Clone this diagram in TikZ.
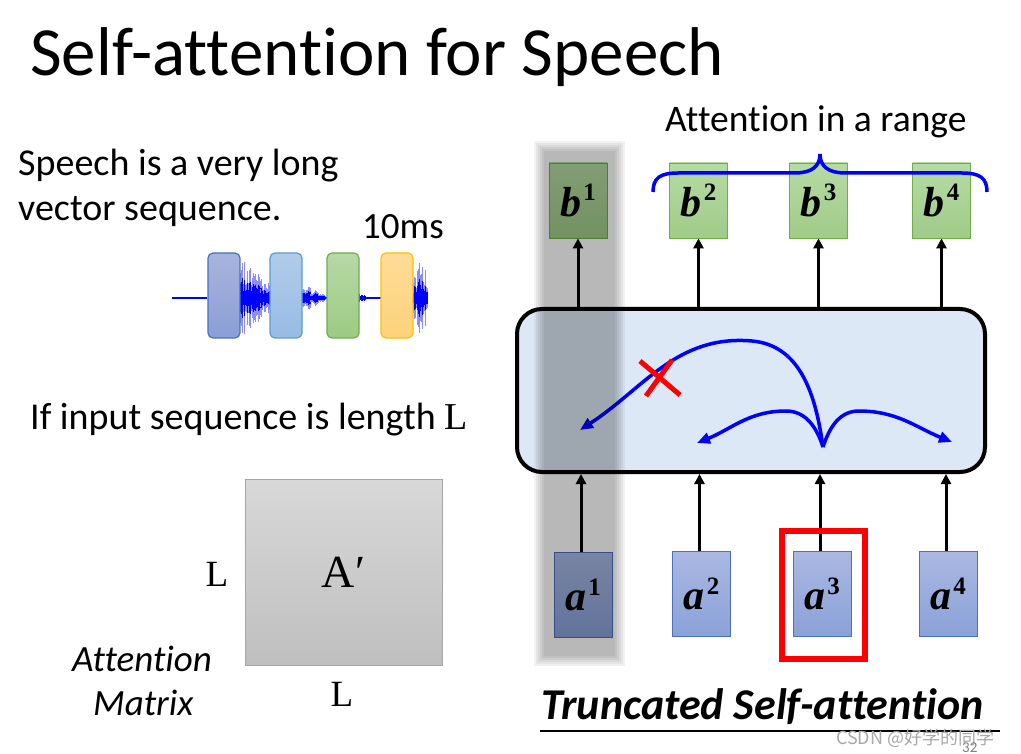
\documentclass[tikz,border=0pt]{standalone}
\usepackage{fontspec}
\setmainfont{Carlito}[Ligatures=NoCommon]
\newfontfamily\libserif{Liberation Serif}
\newfontfamily\cjkfont{Noto Sans CJK SC}
\usetikzlibrary{arrows.meta,calc}
\definecolor{atop}{HTML}{AAB8E2}
\definecolor{abot}{HTML}{8AA1D8}
\definecolor{aedge}{HTML}{4A70BE}
\definecolor{btop}{HTML}{B6DBA4}
\definecolor{bbot}{HTML}{A0CB88}
\definecolor{bedge}{HTML}{70AD47}
\definecolor{layerfill}{HTML}{DCE8F5}
\definecolor{wb1t}{HTML}{A9B4DC}
\definecolor{wb1b}{HTML}{8A9ED6}
\definecolor{wb1e}{HTML}{4472C4}
\definecolor{wb2t}{HTML}{B0CCEA}
\definecolor{wb2b}{HTML}{98BBE5}
\definecolor{wb2e}{HTML}{5B9BD5}
\definecolor{wb3t}{HTML}{B8D8A8}
\definecolor{wb3b}{HTML}{9CCB82}
\definecolor{wb3e}{HTML}{70AD47}
\definecolor{wb4t}{HTML}{FEDC98}
\definecolor{wb4b}{HTML}{FDD27A}
\definecolor{wb4e}{HTML}{FFC000}
\definecolor{mattop}{HTML}{D8D8D8}
\definecolor{matbot}{HTML}{BFBFBF}
\definecolor{matedge}{HTML}{A6A6A6}
\definecolor{wmark}{HTML}{A8A8A8}
\newcommand{\vlab}[2]{{\libserif\bfseries\itshape #1}\raisebox{0.36em}{\fontsize{25}{25}\selectfont\libserif\bfseries\kern2pt#2}}
\tikzset{
  abox/.style={draw=aedge, line width=1pt, top color=atop, bottom color=abot, minimum width=58pt, minimum height=85pt, inner sep=0pt, font=\fontsize{42}{42}\selectfont},
  bbox/.style={draw=bedge, line width=0.8pt, top color=btop, bottom color=bbot, minimum width=58pt, minimum height=75pt, inner sep=0pt, font=\fontsize{42}{42}\selectfont},
  wbox/.style={line width=1.2pt, rounded corners=5pt, minimum width=32pt, minimum height=85pt, inner sep=0pt},
  arr/.style={line width=3pt, -{Triangle[length=10pt,width=10pt]}},
  barr/.style={blue, line width=3.5pt, -{Triangle[length=13pt,width=11pt]}},
  txt/.style={inner sep=0pt, anchor=base west, font=\fontsize{38}{44}\selectfont},
}
\begin{document}
\begin{tikzpicture}[x=1pt,y=-1pt]
\useasboundingbox (0,0) rectangle (1021,754);
\fill[white] (0,0) rectangle (1021,754);

% title and left texts
\node[txt, font=\fontsize{69}{78}\selectfont] (title) at (30,76) {Self-attention for Speech};
\node[txt] (t1) at (18,176) {Speech is a very long};
\node[txt] (t2) at (18,221) {vector sequence.};
\node[txt, font=\fontsize{37}{40}\selectfont] (t3) at (362,239) {10ms};
\node[txt] (t4) at (30,429) {If input sequence is length {\libserif L}};
\node[txt, font=\fontsize{37.5}{44}\selectfont] (t5) at (665,132) {Attention in a range};

% waveform
\coordinate (w0) at (172,298);
\pgfmathsetseed{12}
\foreach \x in {240,240.8,...,270}{
  \pgfmathsetmacro\h{(14+26*(270-\x)/30)*(0.35+0.65*rnd)}
  \draw[blue!45, line width=0.8pt] (\x,298-\h) -- (\x,298+\h);
  \draw[blue, line width=0.8pt] (\x,298-0.55*\h) -- (\x,298+0.55*\h);
}
\foreach \x in {302,302.8,...,327}{
  \pgfmathsetmacro\h{(2.5+9*max(0,1-abs(\x-308)/19))*(0.4+0.6*rnd)}
  \draw[blue!45, line width=0.8pt] (\x,298-\h) -- (\x,298+\h);
  \draw[blue, line width=0.8pt] (\x,298-0.6*\h) -- (\x,298+0.6*\h);
}
\foreach \x in {359,359.8,...,381}{
  \pgfmathsetmacro\h{(1.2+4*max(0,1-(\x-359)/9))*(0.4+0.6*rnd)}
  \draw[blue, line width=0.8pt] (\x,298-\h) -- (\x,298+\h);
}
\foreach \x in {413,413.8,...,428}{
  \pgfmathsetmacro\h{(12+28*max(0,1-abs(\x-421)/10))*(0.35+0.65*rnd)}
  \draw[blue!45, line width=0.8pt] (\x,298-\h) -- (\x,298+\h);
  \draw[blue, line width=0.8pt] (\x,298-0.55*\h) -- (\x,298+0.55*\h);
}
\node[wbox, draw=wb1e, top color=wb1t, bottom color=wb1b] (w1) at (224,295.5) {};
\node[wbox, draw=wb2e, top color=wb2t, bottom color=wb2b] (w2) at (286,295.5) {};
\node[wbox, draw=wb3e, top color=wb3t, bottom color=wb3b] (w3) at (343,295.5) {};
\node[wbox, draw=wb4e, top color=wb4t, bottom color=wb4b] (w4) at (397,295.5) {};
\draw[blue, line width=1.2pt] (w0) -- (w1.west |- w0);

% attention matrix
\node[draw=matedge, line width=0.8pt, top color=mattop, bottom color=matbot, minimum width=197pt, minimum height=186pt, inner sep=0pt, font=\libserif\fontsize{46}{46}\selectfont] (mat) at (343.5,572) {A′};
\node[inner sep=0pt, font=\libserif\fontsize{37}{37}\selectfont] (ll) at (217,574) {L};
\node[inner sep=0pt, font=\libserif\fontsize{37}{37}\selectfont] (lb) at (342,694) {L};
\node[txt, font=\fontsize{37}{44}\selectfont\itshape] (m1) at (72,671) {Attention};
\node[txt, font=\fontsize{37}{44}\selectfont\itshape] (m2) at (93,715) {Matrix};

% self-attention layer
\node[draw=black, line width=4pt, rounded corners=25pt, fill=layerfill, minimum width=468pt, minimum height=163pt, inner sep=0pt] (layer) at (751,390.5) {};

% outputs
\node[bbox] (b1) at (578,200.5) {\vlab{b}{1}};
\node[bbox] (b2) at (698.5,200.5) {\vlab{b}{2}};
\node[bbox] (b3) at (818.5,200.5) {\vlab{b}{3}};
\node[bbox] (b4) at (941.5,200.5) {\vlab{b}{4}};
% inputs
\node[abox] (a1) at (583,595) {\vlab{a}{1}};
\node[abox] (a2) at (701.5,594) {\vlab{a}{2}};
\node[abox] (a3) at (822,594) {\vlab{a}{3}};
\node[abox] (a4) at (948,594) {\vlab{a}{4}};

\foreach \i in {1,...,4}{
  \draw[arr] ($(a\i.north)+(-2,0)$) -- ($(a\i.north |- layer.south)+(-2,0)$);
  \draw[arr] (layer.north -| b\i.south) -- (b\i.south);
}

% brace
\draw[blue, line width=3.5pt] (653,192) .. controls (653,178) and (660,173) .. (678,173) -- (795,173) .. controls (812,173) and (820,166) .. (820,154) .. controls (820,166) and (828,173) .. (845,173) -- (962,173) .. controls (980,173) and (987,178) .. (987,192);

% attention curves
\coordinate (src) at (823,447);
\coordinate (tip1) at (580,430);
\coordinate (tip2) at (697,443);
\coordinate (tip4) at (952,442);
\draw[barr] (src) to[out=98,in=-5] (752,341) to[out=175,in=33] (tip1);
\draw[barr] (src) to[out=108,in=0] (786,411) to[out=180,in=22] (tip2);
\draw[barr] (src) to[out=72,in=180] (859,411) to[out=0,in=158] (tip4);
% red cross
\coordinate (x0) at (660,378);
\draw[red, line width=5pt] ($(x0)+(-20,-17)$) -- ($(x0)+(20,17)$);
\draw[red, line width=5pt] ($(x0)+(12,-18)$) -- ($(x0)+(-14,18)$);

% highlight box
\node[draw=red, line width=6pt, minimum width=83pt, minimum height=128pt, inner sep=0pt] (hl) at (823.5,595) {};

% shaded band
\foreach \i in {0,...,5}{
  \fill[black, opacity=0.05] (534+2*\i,141+2*\i) rectangle (625-2*\i,666-2*\i);
}

% caption
\node[txt, font=\fontsize{44}{48}\selectfont\bfseries\itshape] (cap) at (541,719) {Truncated Self-attention};
\draw[line width=1.5pt] (540,731) -- (1000,731);
\node[inner sep=0pt, anchor=base west, text=wmark, font=\cjkfont\fontsize{18}{18}\selectfont] (wm) at (836,744) {CSDN @好学的同学};
\node[inner sep=0pt, anchor=base west, text=gray, font=\fontsize{15}{15}\selectfont] (pg) at (962,752) {32};
\end{tikzpicture}
\end{document}
